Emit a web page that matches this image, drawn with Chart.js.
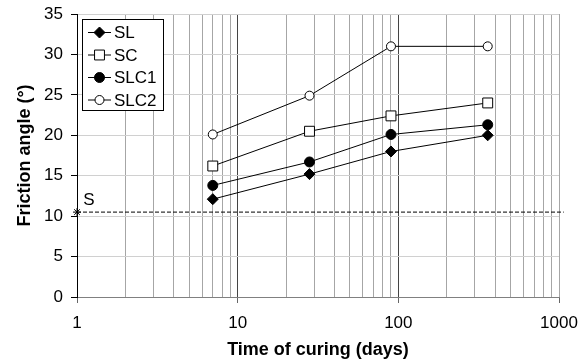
<!DOCTYPE html>
<html><head><meta charset="utf-8">
<style>html,body{margin:0;padding:0;background:#fff}#wrap{width:585px;height:362px}</style>
<script src="https://cdn.jsdelivr.net/npm/chart.js@4/dist/chart.umd.min.js"></script>
</head><body><div id="wrap"><canvas id="c" width="585" height="362"></canvas></div>
<script>
const curingDays = [7, 28, 90, 360];
const SL   = [12.1, 15.2, 18.0, 20.0];
const SC   = [16.2, 20.5, 22.4, 24.0];
const SLC1 = [13.8, 16.7, 20.1, 21.3];
const SLC2 = [20.1, 24.9, 31.0, 31.0];
const sRefX = [1, 1070];
const sRefY = [10.5, 10.5];
const xTickLabels = [1, 10, 100, 1000];
const yTicks = [0, 5, 10, 15, 20, 25, 30, 35];

const F = "'Liberation Sans', Arial, sans-serif";
const pts = (xs, ys) => xs.map((x, i) => ({x, y: ys[i]}));

const series = [
  {label: 'SL', data: SL, style: 'rectRot', r: 5.5, fill: '#000'},
  {label: 'SC', data: SC, style: 'rect', r: 7, fill: '#fff'},
  {label: 'SLC1', data: SLC1, style: 'circle', r: 5, fill: '#000'},
  {label: 'SLC2', data: SLC2, style: 'circle', r: 4.5, fill: '#fff'}
];

const datasets = series.map(s => ({
  label: s.label,
  data: pts(curingDays, s.data),
  showLine: true,
  borderColor: '#000',
  borderWidth: 1,
  pointStyle: s.style,
  pointRadius: s.r,
  pointBackgroundColor: s.fill,
  pointBorderColor: '#000',
  pointBorderWidth: 1
}));
datasets.unshift({
  label: 'S',
  data: pts(sRefX, sRefY),
  showLine: true,
  borderColor: '#000',
  borderWidth: 1,
  borderDash: [4, 2],
  pointStyle: 'star',
  pointRadius: [4, 0],
  pointBorderColor: '#000',
  pointBorderWidth: 1,
  clip: false
});

const legendPlugin = {
  id: 'customLegend',
  afterDraw(chart) {
    const ctx = chart.ctx, a = chart.chartArea;
    const x0 = a.left + 5, y0 = a.top + 5, w = 81, h = 91;
    ctx.save();
    ctx.fillStyle = '#fff';
    ctx.fillRect(x0, y0, w, h);
    ctx.strokeStyle = '#000';
    ctx.lineWidth = 1;
    ctx.strokeRect(x0 + 0.5, y0 + 0.5, w, h);
    series.forEach((s, i) => {
      const cy = y0 + 13.5 + i * 22.5;
      ctx.beginPath();
      ctx.moveTo(x0 + 6, cy);
      ctx.lineTo(x0 + 29, cy);
      ctx.strokeStyle = '#000';
      ctx.lineWidth = 1;
      ctx.stroke();
      ctx.fillStyle = s.fill;
      ctx.strokeStyle = '#000';
      Chart.helpers.drawPoint(ctx, {pointStyle: s.style, radius: s.r, borderWidth: 1}, x0 + 17.5, cy);
      ctx.fillStyle = '#000';
      ctx.font = '17px ' + F;
      ctx.textBaseline = 'middle';
      ctx.textAlign = 'left';
      ctx.fillText(s.label, x0 + 32, cy + 1);
    });
    const xs = chart.scales.x, ys = chart.scales.y;
    ctx.fillStyle = '#000';
    ctx.font = '17px ' + F;
    ctx.textAlign = 'center';
    ctx.textBaseline = 'middle';
    ctx.fillText('S', xs.getPixelForValue(sRefX[0]) + 12, ys.getPixelForValue(sRefY[0]) - 12);
    ctx.restore();
  }
};

const isMajor = v => xTickLabels.includes(v);

new Chart(document.getElementById('c'), {
  type: 'scatter',
  data: {datasets},
  options: {
    responsive: false,
    animation: false,
    layout: {padding: {left: 0, right: 26, top: 14, bottom: 0}},
    plugins: {legend: {display: false}, tooltip: {enabled: false}},
    scales: {
      x: {
        type: 'logarithmic',
        min: 1, max: 1000,
        afterBuildTicks(scale) {
          const t = [];
          for (let d = 1; d < 1000; d *= 10) for (let k = 1; k < 10; k++) t.push({value: k * d});
          t.push({value: 1000});
          scale.ticks = t;
        },
        afterFit(scale) { scale.height = 65; },
        ticks: {
          autoSkip: false, maxRotation: 0, padding: 0,
          color: '#000', font: {family: F, size: 17, lineHeight: 2.35},
          callback: (v) => isMajor(v) ? String(v) : ''
        },
        grid: {
          color: c => (c.tick && isMajor(c.tick.value) && c.tick.value !== 1 && c.tick.value !== 1000) ? '#444' : '#a6a6a6',
          tickColor: c => (c.tick && isMajor(c.tick.value)) ? '#666' : 'rgba(0,0,0,0)',
          tickLength: 6,
          lineWidth: 1
        },
        border: {color: '#808080', width: 1},
        title: {display: true, text: 'Time of curing (days)', color: '#000',
          font: {family: F, size: 18, weight: 'bold'}, padding: {top: 0, bottom: 1}}
      },
      y: {
        min: 0, max: 35,
        afterBuildTicks(scale) { scale.ticks = yTicks.map(v => ({value: v})); },
        afterFit(scale) { scale.width = 77; },
        ticks: {color: '#000', font: {family: F, size: 17, lineHeight: 0.5}, padding: 8},
        grid: {color: '#d0d0d0', tickColor: '#000', tickLength: 6, lineWidth: 1},
        border: {color: '#000', width: 1},
        title: {display: true, text: 'Friction angle (°)', color: '#000',
          font: {family: F, size: 18, weight: 'bold'}, padding: {top: 14, bottom: 0}}
      }
    }
  },
  plugins: [legendPlugin]
});
</script></body></html>
